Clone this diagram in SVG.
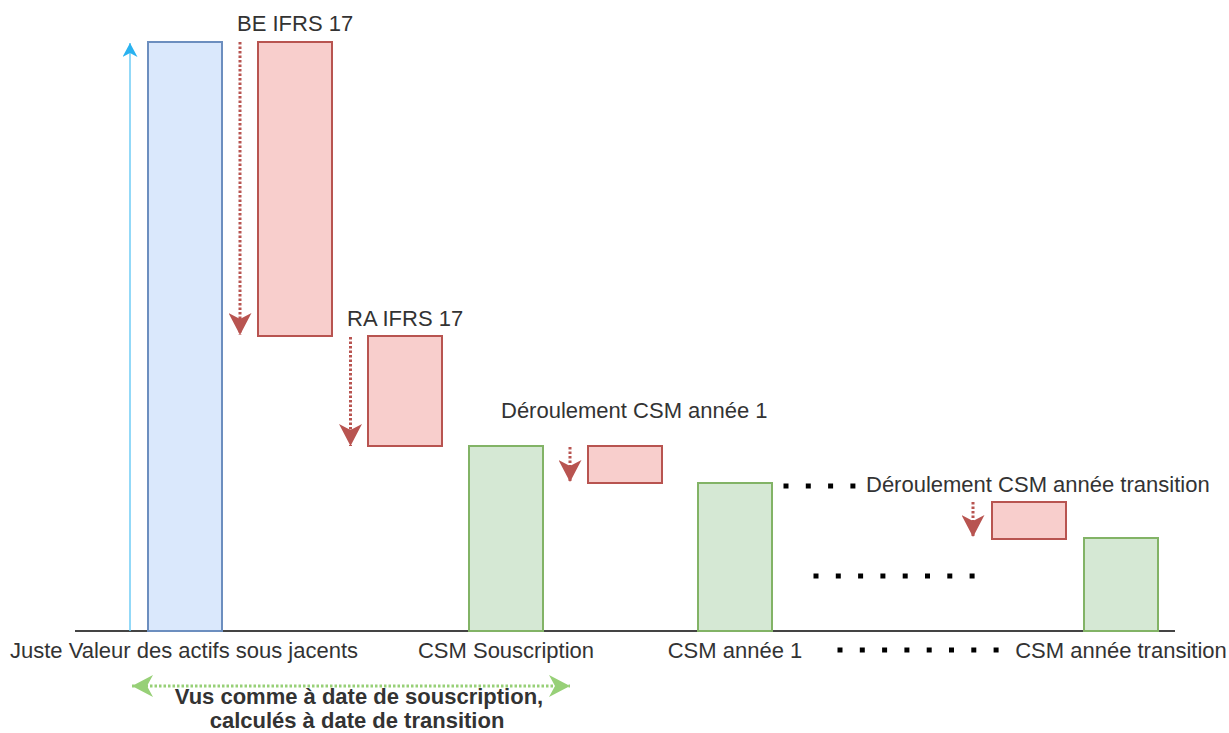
<svg xmlns="http://www.w3.org/2000/svg" width="1229" height="733" viewBox="0 0 1229 733">
  <style>
    .lbl { font-family: "Liberation Sans", Arial, sans-serif; font-size: 22px; fill: #333333; }
    .bold { font-family: "Liberation Sans", Arial, sans-serif; font-size: 22px; font-weight: bold; fill: #333333; }
    .mid { text-anchor: middle; }
    .blue { fill: #dae8fc; stroke: #6c8ebf; stroke-width: 2; }
    .red { fill: #f8cecc; stroke: #b85450; stroke-width: 2; }
    .green { fill: #d5e8d4; stroke: #82b366; stroke-width: 2; }
    .flow { fill: none; stroke: #b85450; stroke-width: 3; stroke-dasharray: 2.5 2; }
    .span { fill: none; stroke: #97d077; stroke-width: 3; stroke-dasharray: 2.5 2; }
    .more { fill: none; stroke: #000000; stroke-width: 5; stroke-dasharray: 5 17.3; }
  </style>
  <defs>
    <marker id="headRed" markerUnits="userSpaceOnUse" viewBox="0 0 22 23" markerWidth="22" markerHeight="23" refX="22" refY="11.5" orient="auto">
      <path d="M0,0 L22,11.5 L0,23 L6,11.5 Z" fill="#b85450"/>
    </marker>
    <marker id="headGreen" markerUnits="userSpaceOnUse" viewBox="0 0 21 22" markerWidth="21" markerHeight="22" refX="21" refY="11" orient="auto-start-reverse">
      <path d="M0,0 L21,11 L0,22 L6,11 Z" fill="#97d077"/>
    </marker>
    <marker id="headBlue" markerUnits="userSpaceOnUse" viewBox="0 0 14 15" markerWidth="14" markerHeight="15" refX="14" refY="7.5" orient="auto">
      <path d="M0,0 L14,7.5 L0,15 L4,7.5 Z" fill="#29b2f0"/>
    </marker>
  </defs>

  <!-- base axis -->
  <line x1="75" y1="631" x2="1175" y2="631" stroke="#444444" stroke-width="2"/>

  <!-- bars -->
  <g id="fair-value"><rect class="blue" x="148" y="42" width="74" height="589"/></g>
  <g id="be-ifrs17"><rect class="red" x="258" y="42" width="74" height="294"/></g>
  <g id="ra-ifrs17"><rect class="red" x="368" y="336" width="74" height="110"/></g>
  <g id="csm-souscription"><rect class="green" x="469" y="446" width="74" height="185"/></g>
  <g id="deroulement-1"><rect class="red" x="588" y="446" width="74" height="37"/></g>
  <g id="csm-annee-1"><rect class="green" x="698" y="483" width="74" height="148"/></g>
  <g id="deroulement-transition"><rect class="red" x="992" y="502" width="74" height="37"/></g>
  <g id="csm-transition"><rect class="green" x="1084" y="538" width="74" height="93"/></g>

  <!-- connectors -->
  <g id="connectors">
    <line x1="130" y1="631" x2="130" y2="43" stroke="#6fcdf6" stroke-width="1.5" marker-end="url(#headBlue)"/>
    <line class="flow" x1="240" y1="42" x2="240" y2="335" marker-end="url(#headRed)"/>
    <line class="flow" x1="350.5" y1="337" x2="350.5" y2="446" marker-end="url(#headRed)"/>
    <line class="flow" x1="570" y1="447" x2="570" y2="482" marker-end="url(#headRed)"/>
    <line class="flow" x1="973" y1="502" x2="973" y2="537" marker-end="url(#headRed)"/>
    <line class="span" x1="132" y1="686" x2="570" y2="686" marker-start="url(#headGreen)" marker-end="url(#headGreen)"/>
  </g>

  <!-- ellipsis rows -->
  <g id="continuation">
    <line class="more" x1="783.5" y1="486" x2="860" y2="486"/>
    <line class="more" x1="813.5" y1="576" x2="980" y2="576"/>
    <line class="more" x1="837.5" y1="650" x2="1003" y2="650"/>
  </g>

  <!-- labels -->
  <g id="labels">
    <text class="lbl" x="237" y="31">BE IFRS 17</text>
    <text class="lbl" x="347" y="326">RA IFRS 17</text>
    <text class="lbl" x="501" y="418">Déroulement CSM année 1</text>
    <text class="lbl" x="866" y="492">Déroulement CSM année transition</text>
    <text class="lbl mid" x="184" y="658">Juste Valeur des actifs sous jacents</text>
    <text class="lbl mid" x="506" y="658">CSM Souscription</text>
    <text class="lbl mid" x="735" y="658">CSM année 1</text>
    <text class="lbl mid" x="1121" y="658">CSM année transition</text>
    <text class="bold mid" x="359" y="704">Vus comme à date de souscription,</text>
    <text class="bold mid" x="357" y="728">calculés à date de transition</text>
  </g>
</svg>
